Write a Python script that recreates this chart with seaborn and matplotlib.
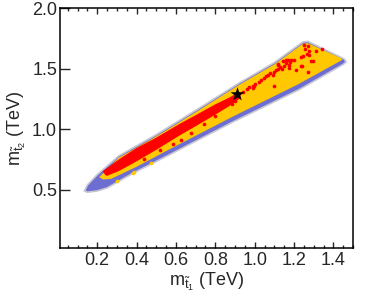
import matplotlib
matplotlib.use("Agg")
import matplotlib.pyplot as plt
from matplotlib.ticker import MultipleLocator
import pandas as pd
import seaborn as sns

# outline of the whole scanned region (blue points)
blue_x = [0.135, 0.15, 0.20, 0.31, 0.50, 0.70, 0.92, 1.10, 1.245, 1.27, 1.455, 1.465,
          1.45, 1.23, 0.89, 0.55, 0.38, 0.25, 0.20, 0.15]
blue_y = [0.49, 0.54, 0.625, 0.78, 0.955, 1.155, 1.38, 1.55, 1.72, 1.725, 1.58, 1.555,
          1.535, 1.33, 1.06, 0.775, 0.635, 0.515, 0.49, 0.48]

# outline of the yellow region
yel_x = [0.21, 0.31, 0.50, 0.70, 0.92, 1.10, 1.245, 1.27, 1.44, 1.445,
         1.22, 0.89, 0.55, 0.40, 0.27, 0.23]
yel_y = [0.605, 0.765, 0.94, 1.14, 1.365, 1.535, 1.705, 1.71, 1.585, 1.572,
         1.37, 1.105, 0.82, 0.69, 0.59, 0.585]

# dense red band
red_band_x = [0.23, 0.31, 0.40, 0.50, 0.62, 0.70, 0.80, 0.87, 0.925,
              0.925, 0.87, 0.80, 0.70, 0.62, 0.50, 0.40, 0.31, 0.25]
red_band_y = [0.65, 0.745, 0.84, 0.925, 1.04, 1.11, 1.20, 1.255, 1.305,
              1.26, 1.195, 1.125, 1.03, 0.955, 0.835, 0.74, 0.66, 0.62]

# individual red points
red_x = [1.252, 1.269, 1.257, 1.278, 1.312, 1.342, 1.278, 1.244, 1.286, 1.185,
         1.168, 1.176, 1.236, 1.210, 1.269, 1.139, 1.091, 1.10, 0.990, 0.998,
         0.885, 0.902, 1.264, 1.235, 1.294, 1.159, 1.142, 1.117, 1.173, 1.241,
         0.94, 0.96, 0.97, 0.99, 1.00, 1.02, 1.03, 1.045, 1.06, 1.07,
         1.08, 1.10, 1.11, 1.12, 1.13, 1.15, 1.16, 1.18, 1.20, 1.12,
         0.677, 0.626, 0.745, 0.584, 0.245, 0.52, 0.44, 0.80]
red_y = [1.698, 1.684, 1.663, 1.643, 1.643, 1.663, 1.616, 1.602, 1.560, 1.569,
         1.569, 1.533, 1.525, 1.486, 1.470, 1.497, 1.450, 1.354, 1.340, 1.36,
         1.21, 1.23, 1.621, 1.594, 1.566, 1.570, 1.560, 1.539, 1.506, 1.520,
         1.31, 1.33, 1.345, 1.36, 1.375, 1.39, 1.41, 1.42, 1.435, 1.45,
         1.46, 1.475, 1.49, 1.50, 1.515, 1.52, 1.545, 1.555, 1.57, 1.53,
         0.965, 0.91, 1.045, 0.875, 0.638, 0.83, 0.755, 1.105]

# stray yellow points inside the blue band
yel_pt_x = [0.389, 0.474, 0.381, 0.30]
yel_pt_y = [0.648, 0.718, 0.636, 0.575]

# benchmark point
star_x = [0.912]
star_y = [1.287]

sns.set_style("ticks")
plt.rcParams['font.family'] = ['Liberation Sans', 'DejaVu Sans']
plt.rcParams['mathtext.fontset'] = 'custom'
plt.rcParams['mathtext.rm'] = 'Liberation Sans'
plt.rcParams['mathtext.it'] = 'Liberation Sans:italic'

fig = plt.figure(figsize=(3.74, 2.98), dpi=100)
ax = fig.add_axes([0.160, 0.168, 0.784, 0.805])

ax.fill(blue_x, blue_y, color='#6e6ed2', ec='#c8c8d4', lw=1.2, zorder=1)
ax.fill(yel_x, yel_y, color='#ffc800', lw=0, zorder=2)
ax.fill(red_band_x, red_band_y, color='#ff0000', ec='#ff0000', lw=0.8, zorder=3)

df_red = pd.DataFrame({'x': red_x, 'y': red_y})
df_yel = pd.DataFrame({'x': yel_pt_x, 'y': yel_pt_y})
sns.scatterplot(data=df_yel, x='x', y='y', color='#ffc800', s=7, linewidth=0, ax=ax, zorder=2)
sns.scatterplot(data=df_red, x='x', y='y', color='#ff0000', s=7, linewidth=0, ax=ax, zorder=4)
sns.scatterplot(x=star_x, y=star_y, marker='*', color='black', s=110, linewidth=0, ax=ax, zorder=5)

ax.set_xlim(0.01, 1.5)
ax.set_ylim(0.02, 2.0)
ax.set_xticks([0.2, 0.4, 0.6, 0.8, 1.0, 1.2, 1.4])
ax.set_xticklabels(['0.2', '0.4', '0.6', '0.8', '1.0', '1.2', '1.4'])
ax.xaxis.set_minor_locator(MultipleLocator(0.05))
ax.set_yticks([0.5, 1.0, 1.5, 2.0])
ax.set_yticklabels(['0.5', '1.0', '1.5', '2.0'])

ax.tick_params(axis='x', which='major', direction='in', top=True, length=4.5, width=1, labelsize=13, pad=3)
ax.tick_params(axis='x', which='minor', direction='in', top=True, length=2.2, width=1)
ax.tick_params(axis='y', which='major', direction='in', right=False, length=7, width=1, labelsize=13, pad=2)
for s in ax.spines.values():
    s.set_linewidth(1.1)
    s.set_color('black')

ax.set_xlabel(r'm$_{\tilde{\mathrm{t}}_1}$ (TeV)', fontsize=13, labelpad=1)
ax.set_ylabel(r'm$_{\tilde{\mathrm{t}}_2}$ (TeV)', fontsize=13, labelpad=3)

fig.savefig('out.png', dpi=100)
